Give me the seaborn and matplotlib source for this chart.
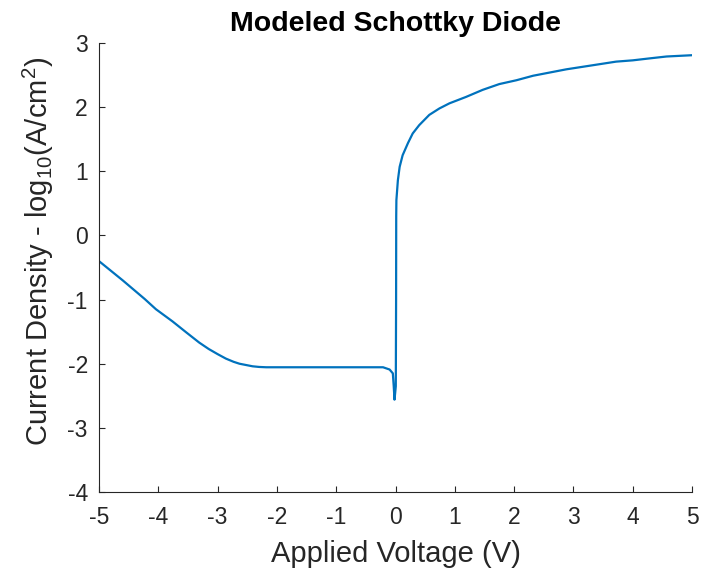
import numpy as np
import pandas as pd
import seaborn as sns
import matplotlib
matplotlib.use("Agg")
import matplotlib.pyplot as plt

voltage = [-5.0, -4.6, -4.23, -4.04, -3.76, -3.53, -3.31, -3.15, -3.0, -2.86, -2.73,
           -2.63, -2.52, -2.41, -2.3, -2.18, -2.0, -1.5, -1.0, -0.5, -0.21,
           -0.10, -0.045, -0.03, -0.017, -0.005, 0.005, 0.01, 0.012, 0.015,
           0.04, 0.07, 0.12, 0.21, 0.29, 0.40, 0.57, 0.74, 0.91, 1.19, 1.47,
           1.75, 2.04, 2.32, 2.60, 2.88, 3.16, 3.44, 3.72, 4.00, 4.28, 4.57, 5.0]
log_current = [-0.40, -0.70, -0.99, -1.15, -1.34, -1.51, -1.67, -1.77, -1.85, -1.92, -1.97,
               -2.00, -2.02, -2.04, -2.05, -2.055, -2.055, -2.055, -2.055, -2.055, -2.055,
               -2.09, -2.15, -2.35, -2.56, -2.45, -2.35, -1.0, 0.30, 0.55,
               0.86, 1.07, 1.25, 1.44, 1.59, 1.72, 1.88, 1.98, 2.06, 2.16, 2.27,
               2.36, 2.42, 2.49, 2.54, 2.59, 2.63, 2.67, 2.71, 2.73, 2.76, 2.79, 2.81]

x_ticks = [-5, -4, -3, -2, -1, 0, 1, 2, 3, 4, 5]
y_ticks = [-4, -3, -2, -1, 0, 1, 2, 3]

df = pd.DataFrame({"V": voltage, "J": log_current})

sns.set_style("white")
plt.rcParams['font.family'] = ['Liberation Sans', 'DejaVu Sans']
plt.rcParams['mathtext.fontset'] = 'custom'
plt.rcParams['mathtext.rm'] = 'Liberation Sans'
plt.rcParams['mathtext.it'] = 'Liberation Sans'

fig = plt.figure(figsize=(7.01, 5.76), dpi=100)
ax = fig.add_axes([0.1412, 0.1458, 0.8460, 0.7795])

sns.lineplot(data=df, x="V", y="J", ax=ax, color="#0072BD", linewidth=1.6,
             estimator=None, sort=False)

ax.set_xlim(-5, 5)
ax.set_ylim(-4, 3)
ax.set_xticks(x_ticks)
ax.set_yticks(y_ticks)
ax.set_xticklabels([str(t) for t in x_ticks])
ax.set_yticklabels([str(t) for t in y_ticks])

grey = "#262626"
for s in ["top", "right"]:
    ax.spines[s].set_visible(False)
for s in ["left", "bottom"]:
    ax.spines[s].set_color(grey)
    ax.spines[s].set_linewidth(0.8)
ax.tick_params(direction="in", length=4, width=0.8, colors=grey, labelsize=16.5,
               left=True, bottom=True)
ax.tick_params(axis="x", pad=10)
ax.tick_params(axis="y", pad=8)

ax.set_xlabel("Applied Voltage (V)", fontsize=21, color=grey, labelpad=8)
ax.set_ylabel(r"Current Density - log$_{10}$(A/cm$^2$)", fontsize=21, color=grey)
ax.yaxis.set_label_coords(-0.072, 0.535)
ax.set_title("Modeled Schottky Diode", fontsize=20.5, fontweight="bold", color="black", pad=9)

fig.savefig("out.png", dpi=100)
